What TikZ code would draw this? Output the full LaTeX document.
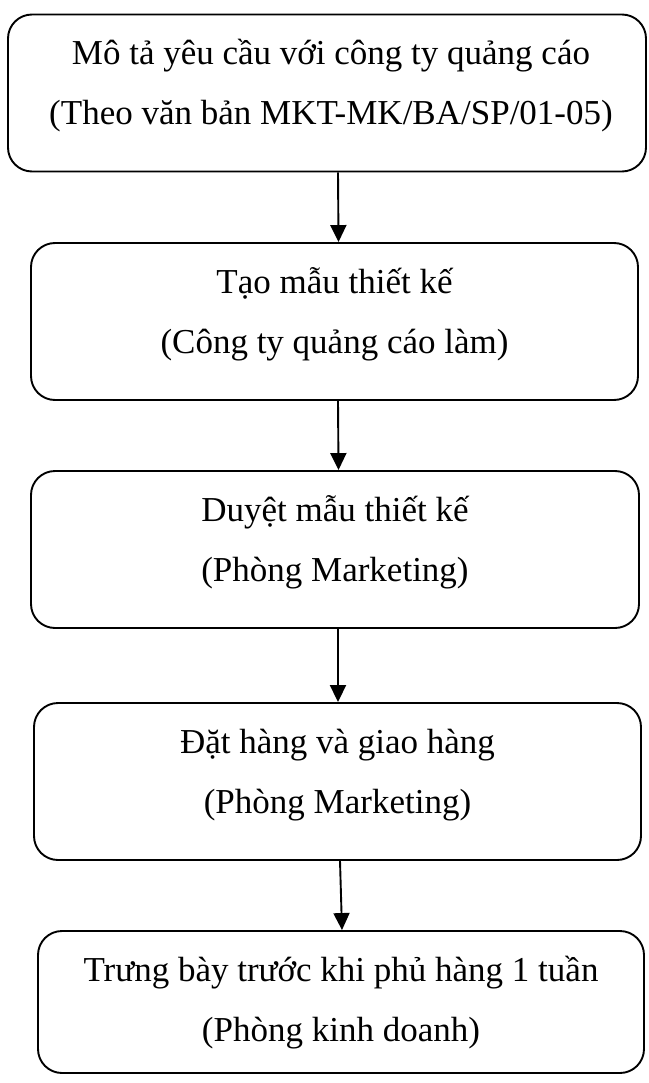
\documentclass[tikz,border=0pt]{standalone}
\usepackage{fontspec}
\setmainfont{Liberation Serif}
\usetikzlibrary{arrows.meta}
\tikzset{
  stepbox/.style={draw, line width=1.9pt, rounded corners=24pt, align=center,
    font=\fontsize{35}{60}\selectfont, inner sep=0pt,
    text height=110pt, text depth=47pt},
  lastbox/.style={stepbox, text depth=32pt},
  flow/.style={line width=1.9pt, -{Triangle[length=17pt,width=16pt]}}
}
\begin{document}
\begin{tikzpicture}[x=1pt, y=-1pt]
  \useasboundingbox (0,0) rectangle (648,1083);
  \node[stepbox, minimum width=638pt] (a) at (327,93)
    {\hspace*{8pt}Mô tả yêu cầu với công ty quảng cáo\\\hspace*{8pt}(Theo văn bản MKT-MK/BA/SP/01-05)};
  \node[stepbox, minimum width=607pt] (b) at (334.5,321.5)
    {Tạo mẫu thiết kế\\(Công ty quảng cáo làm)};
  \node[stepbox, minimum width=608pt] (c) at (335,549.5)
    {Duyệt mẫu thiết kế\\(Phòng Marketing)};
  \node[stepbox, minimum width=607pt] (d) at (337.5,781.5)
    {Đặt hàng và giao hàng\\(Phòng Marketing)};
  \node[lastbox, minimum width=606pt] (e) at (341,1002)
    {Trưng bày trước khi phủ hàng 1 tuần\\(Phòng kinh doanh)};
  \draw[flow] ([xshift=11pt]a.south) -- ([xshift=4pt]b.north);
  \draw[flow] ([xshift=3.5pt]b.south) -- ([xshift=3.5pt]c.north);
  \draw[flow] ([xshift=3pt]c.south) -- ([xshift=0.5pt]d.north);
  \draw[flow] ([xshift=2.5pt]d.south) -- ([xshift=1pt]e.north);
\end{tikzpicture}
\end{document}
